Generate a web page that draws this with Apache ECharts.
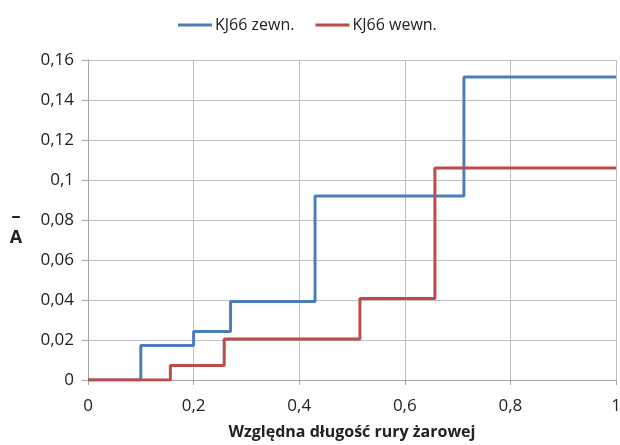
<!DOCTYPE html>
<html>
<head>
<meta charset="utf-8">
<script src="https://cdn.jsdelivr.net/npm/echarts@6/dist/echarts.min.js"></script>
<style>
  html, body { margin: 0; padding: 0; background: #fff; }
  #chart { width: 620px; height: 445px; }
</style>
</head>
<body>
<div id="chart"></div>
<script>
// dane
var seriesNames = ['KJ66 zewn.', 'KJ66 wewn.'];
var zewnX = [0, 0.1, 0.2, 0.27, 0.43, 0.712, 1];
var zewnY = [0, 0.0172, 0.0242, 0.0392, 0.092, 0.1515, 0.1515];
var wewnX = [0, 0.156, 0.258, 0.515, 0.657, 1];
var wewnY = [0, 0.0072, 0.0205, 0.0408, 0.106, 0.106];

function pairs(xs, ys) {
    var out = [];
    for (var i = 0; i < xs.length; i++) out.push([xs[i], ys[i]]);
    return out;
}
function plLabel(v) {
    return String(+v.toFixed(4)).replace('.', ',');
}

var myChart = echarts.init(document.getElementById('chart'));
var font = "'Open Sans', sans-serif";
var option = {
    animation: false,
    legend: {
        data: seriesNames,
        left: 173,
        top: 12,
        icon: 'rect',
        itemWidth: 34,
        itemHeight: 3,
        itemGap: 21,
        textStyle: { fontFamily: font, fontSize: 16, color: '#222', padding: [0, 0, 0, -2] }
    },
    grid: { left: 88, right: 4, top: 60, bottom: 65, outerBoundsMode: 'none' },
    xAxis: {
        type: 'value',
        min: 0, max: 1, interval: 0.2,
        name: 'Względna długość rury żarowej',
        nameLocation: 'middle',
        nameGap: 44,
        nameTextStyle: { fontFamily: font, fontSize: 16, fontWeight: 'bold', color: '#222' },
        axisLine: { show: true, lineStyle: { color: '#a6a6a6', width: 1 } },
        axisTick: { show: true, length: 5, lineStyle: { color: '#a6a6a6' } },
        axisLabel: { fontFamily: font, fontSize: 17, color: '#222', margin: 18, formatter: plLabel },
        splitLine: { show: true, lineStyle: { color: '#bfbfbf', width: 1 } }
    },
    yAxis: {
        type: 'value',
        min: 0, max: 0.16, interval: 0.02,
        name: '{b|–}\n{a|A}',
        nameLocation: 'middle',
        nameRotate: 0,
        nameGap: 72,
        nameTextStyle: {
            align: 'center',
            verticalAlign: 'middle',
            padding: [14, 0, 0, 0],
            rich: {
                b: { fontFamily: font, fontSize: 18, fontWeight: 'bold', color: '#222', lineHeight: 22 },
                a: { fontFamily: font, fontSize: 18, fontWeight: 'bold', color: '#222', lineHeight: 20 }
            }
        },
        axisLine: { show: true, lineStyle: { color: '#a6a6a6', width: 1 } },
        axisTick: { show: true, length: 6, lineStyle: { color: '#a6a6a6' } },
        axisLabel: { fontFamily: font, fontSize: 17, color: '#222', margin: 14, formatter: plLabel },
        splitLine: { show: true, lineStyle: { color: '#bfbfbf', width: 1 } }
    },
    series: [
        {
            name: seriesNames[0],
            type: 'line',
            step: 'end',
            symbol: 'none',
            lineStyle: { color: '#4a7ebb', width: 3 },
            itemStyle: { color: '#4a7ebb' },
            data: pairs(zewnX, zewnY)
        },
        {
            name: seriesNames[1],
            type: 'line',
            step: 'end',
            symbol: 'none',
            lineStyle: { color: '#be4b48', width: 3 },
            itemStyle: { color: '#be4b48' },
            data: pairs(wewnX, wewnY)
        }
    ]
};
myChart.setOption(option);
</script>
</body>
</html>
